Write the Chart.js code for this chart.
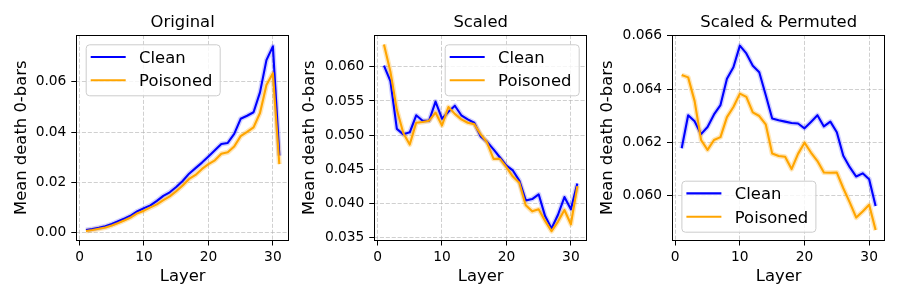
<!DOCTYPE html>
<html>
<head>
<meta charset="utf-8">
<script src="https://cdn.jsdelivr.net/npm/chart.js@4/dist/chart.umd.min.js"></script>
<style>
  html, body { margin: 0; padding: 0; background: #fff; }
  body { width: 900px; height: 300px; position: relative; overflow: hidden; }
  canvas { position: absolute; top: 0; }
</style>
</head>
<body>
<canvas id="c1" width="290" height="300" style="left:10px;width:290px;height:300px"></canvas>
<canvas id="c2" width="300" height="300" style="left:298px;width:300px;height:300px"></canvas>
<canvas id="c3" width="304" height="300" style="left:596px;width:304px;height:300px"></canvas>
<script>
// ---------- data ----------
const layers = [1,2,3,4,5,6,7,8,9,10,11,12,13,14,15,16,17,18,19,20,21,22,23,24,25,26,27,28,29,30,31];
const seriesNames = ['Clean', 'Poisoned'];
const panelTitles = ['Original', 'Scaled', 'Scaled & Permuted'];
const xAxisLabel = 'Layer';
const yAxisLabel = 'Mean death 0-bars';

const xTickValues = [0, 10, 20, 30];
const xTickLabels = ['0', '10', '20', '30'];

const originalClean = [0.0011,0.0015,0.0020,0.0026,0.0035,0.0046,0.0057,0.0069,0.0086,0.0098,0.0109,0.0127,0.0147,0.0161,0.0182,0.0206,0.0235,0.0257,0.0279,0.0303,0.0328,0.0353,0.0357,0.0393,0.0453,0.0465,0.0479,0.0558,0.0686,0.0741,0.0307];
const originalPoisoned = [0.0007,0.0011,0.0016,0.0021,0.0029,0.0039,0.0050,0.0062,0.0078,0.0088,0.0101,0.0113,0.0130,0.0145,0.0165,0.0188,0.0214,0.0230,0.0254,0.0273,0.0288,0.0314,0.0320,0.0343,0.0384,0.0401,0.0419,0.0476,0.0587,0.0634,0.0273];
const originalYTicks = [0.00, 0.02, 0.04, 0.06];
const originalYLabels = ['0.00', '0.02', '0.04', '0.06'];

const scaledClean = [0.0602,0.0579,0.0509,0.0501,0.0504,0.0529,0.0521,0.0521,0.0549,0.0524,0.0534,0.0543,0.0529,0.0523,0.0518,0.0498,0.0490,0.0479,0.0467,0.0455,0.0448,0.0433,0.0404,0.0406,0.0413,0.0381,0.0363,0.0383,0.0409,0.0391,0.0429];
const scaledPoisoned = [0.0633,0.0593,0.0537,0.0503,0.0486,0.0518,0.0519,0.0521,0.0533,0.0514,0.0541,0.0531,0.0523,0.0518,0.0516,0.0501,0.0489,0.0465,0.0465,0.0453,0.0439,0.0430,0.0397,0.0388,0.0391,0.0374,0.0359,0.0373,0.0390,0.0369,0.0425];
const scaledYTicks = [0.035, 0.040, 0.045, 0.050, 0.055, 0.060];
const scaledYLabels = ['0.035', '0.040', '0.045', '0.050', '0.055', '0.060'];

const permutedClean = [0.06178,0.06302,0.06279,0.06231,0.06258,0.06305,0.06340,0.06439,0.06482,0.06563,0.06534,0.06488,0.06463,0.06378,0.06290,0.06283,0.06278,0.06273,0.06271,0.06253,0.06277,0.06302,0.06260,0.06278,0.06238,0.06150,0.06107,0.06072,0.06084,0.06062,0.05961];
const permutedPoisoned = [0.06453,0.06444,0.06355,0.06209,0.06172,0.06209,0.06220,0.06295,0.06333,0.06383,0.06371,0.06313,0.06299,0.06268,0.06158,0.06149,0.06146,0.06100,0.06157,0.06199,0.06162,0.06130,0.06087,0.06086,0.06087,0.06028,0.05975,0.05918,0.05941,0.05966,0.05871];
const permutedYTicks = [0.060, 0.062, 0.064, 0.066];
const permutedYLabels = ['0.060', '0.062', '0.064', '0.066'];

// ---------- styles ----------
const FONT = 'DejaVu Sans';
const BIG = 16.4, SMALL = 13.8;
const COLORS = ['#0000ff', '#ffa500'];
const HALO = ['rgba(0,0,255,0.18)', 'rgba(255,165,0,0.28)'];
const GRID = 'rgba(176,176,176,0.75)';

const framePlugin = {
  id: 'frame',
  afterDraw(chart) {
    const { ctx, chartArea: a } = chart;
    ctx.save();
    ctx.strokeStyle = '#000';
    ctx.lineWidth = 1;
    const l = Math.round(a.left) + 0.5, r = Math.round(a.right) - 0.5;
    const t = Math.round(a.top) + 0.5, b = Math.round(a.bottom) - 0.5;
    ctx.strokeRect(l, t, r - l, b - t);
    // panel title
    ctx.fillStyle = '#000';
    ctx.font = BIG + 'px "' + FONT + '"';
    ctx.textAlign = 'center';
    ctx.textBaseline = 'alphabetic';
    ctx.fillText(chart.options.plugins.panelInfo.title, (a.left + a.right) / 2, 27.3);
    ctx.restore();
  }
};

const legendPlugin = {
  id: 'mplLegend',
  afterDatasetsDraw(chart) {
    const { ctx, chartArea: a } = chart;
    const info = chart.options.plugins.panelInfo;
    const W = 134, H = 51;
    let x, y;
    if (info.legend === 'upper left') { x = a.left + 9.4; y = a.top + 9.3; }
    else if (info.legend === 'upper right') { x = a.right - 8.3 - W; y = a.top + 9.3; }
    else { x = a.left + 9.4; y = a.bottom - 8.8 - H; }
    ctx.save();
    ctx.beginPath();
    ctx.roundRect(x + 0.5, y + 0.5, W, H, 3.5);
    ctx.fillStyle = 'rgba(255,255,255,0.8)';
    ctx.fill();
    ctx.strokeStyle = '#cccccc';
    ctx.lineWidth = 1;
    ctx.stroke();
    ctx.font = BIG + 'px "' + FONT + '"';
    ctx.textAlign = 'left';
    ctx.textBaseline = 'alphabetic';
    seriesNames.forEach((name, i) => {
      const ly = y + 12.7 + i * 23.3;
      ctx.beginPath();
      ctx.moveTo(x + 5, ly);
      ctx.lineTo(x + 40, ly);
      ctx.strokeStyle = COLORS[i];
      ctx.lineWidth = 2.1;
      ctx.stroke();
      ctx.fillStyle = '#000';
      ctx.fillText(name, x + 53.4, y + 18.6 + i * 23.4);
    });
    ctx.restore();
  }
};

function makePanel(id, cfg) {
  const pts = arr => layers.map((l, i) => ({ x: l, y: arr[i] }));
  const ds = (arr, color, w, order) => ({
    data: pts(arr), borderColor: color, borderWidth: w, pointRadius: 0,
    fill: false, tension: 0, order: order, borderJoinStyle: 'round'
  });
  const series = [cfg.clean, cfg.poisoned];
  const datasets = [
    ds(series[0], HALO[0], 5, 4),
    ds(series[1], HALO[1], 5, 3),
    ds(series[0], COLORS[0], 2.1, 2),
    ds(series[1], COLORS[1], 2.1, 1)
  ];
  const tickFont = { family: FONT, size: SMALL };
  const titleFont = { family: FONT, size: BIG, lineHeight: 1.2 };
  const gridOpts = { color: GRID, lineWidth: 0.8, drawTicks: true, tickLength: 5, tickColor: '#000', tickWidth: 1, tickBorderDash: [] };
  new Chart(document.getElementById(id), {
    type: 'line',
    data: { datasets },
    options: {
      responsive: false,
      animation: false,
      events: [],
      layout: { padding: { left: 0, right: cfg.padRight, top: 35, bottom: 0 } },
      plugins: {
        legend: { display: false },
        tooltip: { enabled: false },
        title: { display: false },
        panelInfo: { title: cfg.title, legend: cfg.legend }
      },
      scales: {
        x: {
          type: 'linear', min: -0.5, max: 32.5,
          afterBuildTicks: s => { s.ticks = xTickValues.map(v => ({ value: v })); },
          afterFit: s => { s.height = 59.5; },
          ticks: { font: tickFont, color: '#000', padding: 3.2, maxRotation: 0, autoSkip: false,
                   callback: (v, i) => xTickLabels[i] },
          grid: gridOpts,
          border: { display: false, dash: [4.1, 1.8] },
          title: { display: true, text: xAxisLabel, font: titleFont, color: '#000', padding: { top: 0, bottom: 13.2 } }
        },
        y: {
          type: 'linear', min: cfg.yMin, max: cfg.yMax,
          afterBuildTicks: s => { s.ticks = cfg.yTicks.map(v => ({ value: v })); },
          afterFit: s => { s.width = cfg.axisWidth; },
          ticks: { font: tickFont, color: '#000', padding: 4.9, autoSkip: false,
                   callback: (v, i) => cfg.yLabels[i] },
          grid: gridOpts,
          border: { display: false, dash: [4.1, 1.8] },
          title: { display: true, text: yAxisLabel, font: titleFont, color: '#000', padding: { top: cfg.yTitlePad, bottom: 0 } }
        }
      }
    },
    plugins: [legendPlugin, framePlugin]
  });
}

makePanel('c1', {
  title: panelTitles[0], clean: originalClean, poisoned: originalPoisoned,
  yMin: -0.00305, yMax: 0.0786, yTicks: originalYTicks, yLabels: originalYLabels,
  axisWidth: 66.3, padRight: 11, yTitlePad: 1.76, legend: 'upper left'
});
makePanel('c2', {
  title: panelTitles[1], clean: scaledClean, poisoned: scaledPoisoned,
  yMin: 0.03452, yMax: 0.06468, yTicks: scaledYTicks, yLabels: scaledYLabels,
  axisWidth: 76.3, padRight: 11, yTitlePad: 2.16, legend: 'upper right'
});
makePanel('c3', {
  title: panelTitles[2], clean: permutedClean, poisoned: permutedPoisoned,
  yMin: 0.05832, yMax: 0.06603, yTicks: permutedYTicks, yLabels: permutedYLabels,
  axisWidth: 76, padRight: 14.7, yTitlePad: 1.76, legend: 'lower left'
});
</script>
</body>
</html>
